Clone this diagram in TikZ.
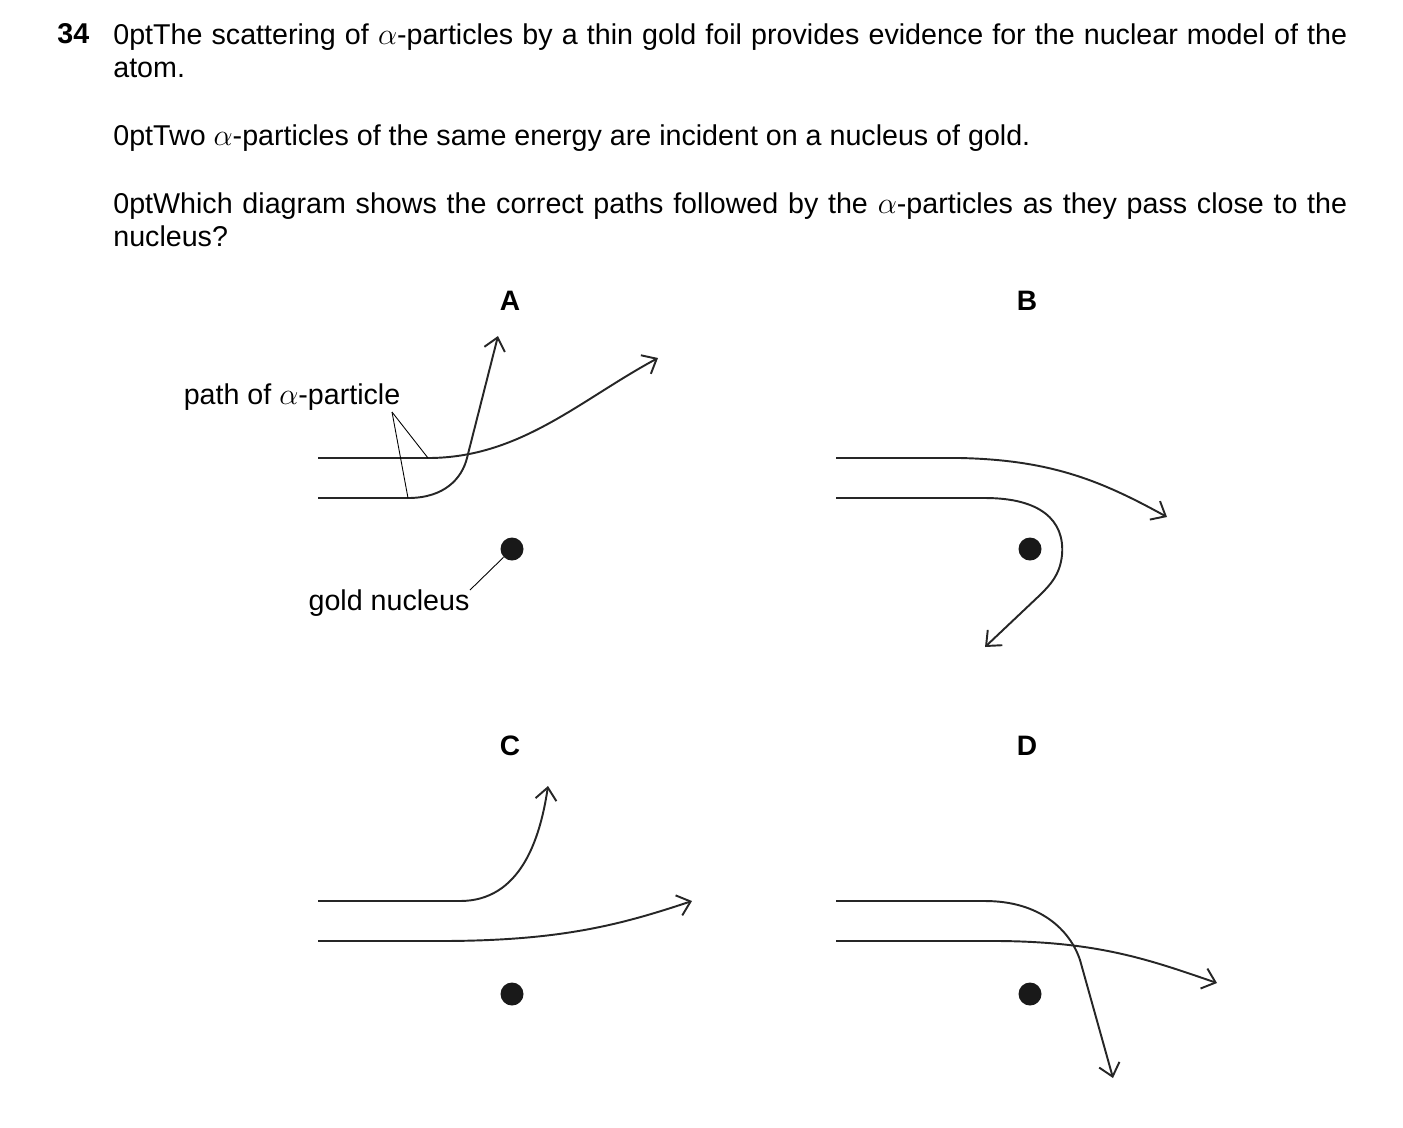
\documentclass[tikz,border=0pt]{standalone}
\usepackage{fontspec}
\setmainfont{Liberation Sans}
\usetikzlibrary{arrows.meta, positioning}

\tikzset{
  track/.style={line width=1.1pt, black!85},
  trackarr/.style={track, -{Straight Barb[length=7pt, width=12pt, line width=1.1pt]}},
  leader/.style={line width=0.5pt},
  nucleus/.style={circle, fill=black!90, minimum size=0.46cm, inner sep=0pt},
  panel/.style={font=\bfseries\fontsize{16}{18}\selectfont},
  label/.style={font=\fontsize{16.3}{19}\selectfont},
  qtext/.style={anchor=north west, align=justify, text width=24.68cm, inner sep=0pt,
    font=\fontsize{16.3}{18.9}\selectfont\hyphenpenalty=10000\exhyphenpenalty=10000}
}

\begin{document}
\begin{tikzpicture}[x=0.02cm, y=-0.02cm]
\useasboundingbox (0,0) rectangle (1403,1127);

% question
\node[anchor=north west, inner sep=0pt, font=\bfseries\fontsize{16.3}{18.9}\selectfont] (num) at (57,23) {34};
\node[qtext] (q1) at (113,23) {The scattering of $\alpha$-particles by a thin gold foil provides evidence for the nuclear model of the\linebreak atom.};
\node[qtext] (q2) at (113,124) {Two $\alpha$-particles of the same energy are incident on a nucleus of gold.};
\node[qtext] (q3) at (113,192) {Which diagram shows the correct paths followed by the $\alpha$-particles as they pass close to the\linebreak nucleus?};

% panel labels
\node[panel] (lA) at (510,301) {A};
\node[panel] (lB) at (1027,301) {B};
\node[panel] (lC) at (510,746) {C};
\node[panel] (lD) at (1027,746) {D};

% nuclei
\node[nucleus] (nA) at (512,549) {};
\node[nucleus] (nB) at (1030,549) {};
\node[nucleus] (nC) at (512,994) {};
\node[nucleus] (nD) at (1030,994) {};

% A
\draw[trackarr] (318,458) -- (428,458) .. controls (520,458) and (580,400) .. (658,358);
\draw[trackarr] (318,498) -- (408,498) .. controls (445,498) and (462,478) .. (467,458) -- (498,336);
\node[label] (lpath) at (292,397) {path of $\alpha$-particle};
\coordinate (pfoot) at (392,412);
\draw[leader] (pfoot) -- (428,458);
\draw[leader] (pfoot) -- (408,498);
\node[label] (lgold) at (389,603) {gold nucleus};
\draw[leader] (470,590) -- (nA);

% B
\draw[trackarr] (836,458) -- (960,458) .. controls (1050,460) and (1100,480) .. (1167,517);
\draw[trackarr] (836,498) -- (985,498) .. controls (1040,498) and (1065,520) .. (1062,555)
  .. controls (1060,575) and (1050,585) .. (1040,595) -- (985,647);

% C
\draw[trackarr] (318,901) -- (460,901) .. controls (520,901) and (540,840) .. (548,786);
\draw[trackarr] (318,941) -- (440,941) .. controls (560,941) and (620,925) .. (692,901);

% D
\draw[trackarr] (836,901) -- (985,901) .. controls (1040,901) and (1070,930) .. (1080,960) -- (1113,1078);
\draw[trackarr] (836,941) -- (1000,941) .. controls (1100,942) and (1150,960) .. (1217,983);
\end{tikzpicture}
\end{document}
